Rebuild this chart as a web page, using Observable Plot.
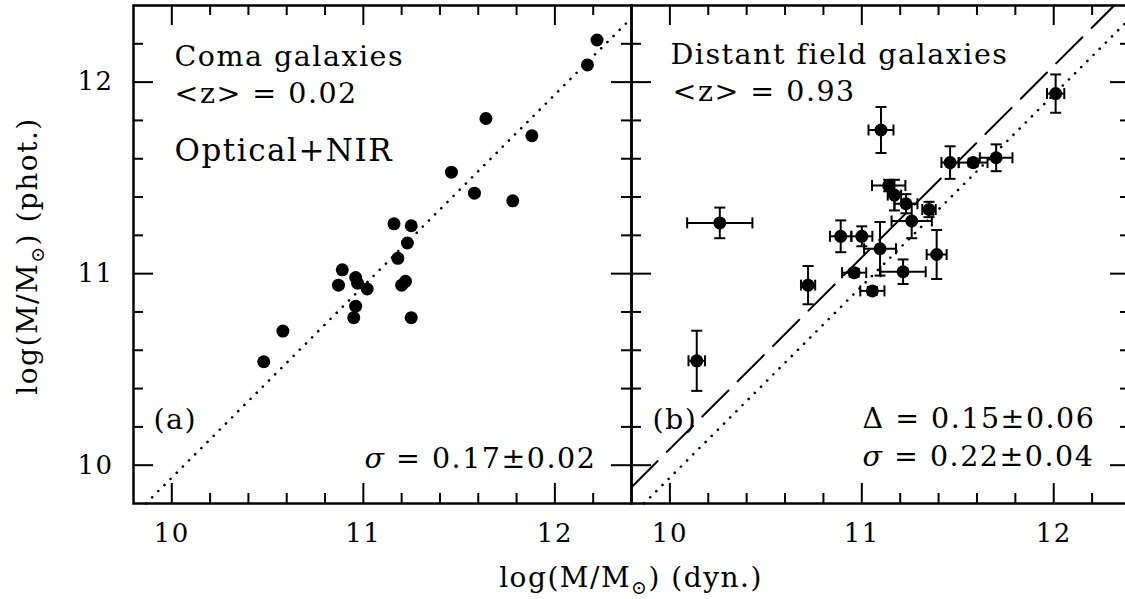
<!DOCTYPE html>
<html>
<head>
<meta charset="utf-8">
<script src="https://cdn.jsdelivr.net/npm/d3@7"></script>
<script src="https://cdn.jsdelivr.net/npm/@observablehq/plot@0.6"></script>
<style>
  html, body { margin: 0; padding: 0; background: #fff; }
  #chart { position: relative; width: 1125px; height: 599px; overflow: hidden; }
  #chart svg { position: absolute; left: 0; top: 0; display: block; }
  #chart svg text { letter-spacing: 1.5px; }
  #chart svg text.lbl { letter-spacing: 2px; }
</style>
</head>
<body>
<div id="chart"></div>
<script>
// ---------- data ----------
// Panel (a): Coma galaxies, log M dyn vs log M phot
const comaDyn  = [12.22, 12.17, 11.64, 11.88, 11.46, 11.58, 11.78, 11.16, 11.25, 11.23, 11.18, 10.89,
                  10.87, 10.96, 10.97, 11.02, 11.22, 11.20, 10.96, 10.95, 11.25, 10.58, 10.48];
const comaPhot = [12.22, 12.09, 11.81, 11.72, 11.53, 11.42, 11.38, 11.26, 11.25, 11.16, 11.08, 11.02,
                  10.94, 10.98, 10.95, 10.92, 10.96, 10.94, 10.83, 10.77, 10.77, 10.70, 10.54];

// Panel (b): distant field galaxies with errors
const fieldDyn     = [12.01, 11.10, 11.46, 11.58, 11.70, 11.14, 11.17, 11.23, 11.35, 11.26,
                      10.26, 10.89, 11.00, 11.095, 11.39, 10.96, 11.215, 10.72, 11.055, 10.14];
const fieldPhot    = [11.94, 11.75, 11.58, 11.58, 11.605, 11.46, 11.41, 11.365, 11.335, 11.275,
                      11.265, 11.195, 11.195, 11.13, 11.10, 11.005, 11.01, 10.94, 10.91, 10.545];
const fieldDynErr  = [0.045, 0.065, 0.045, 0.075, 0.085, 0.087, 0.035, 0.06, 0.035, 0.105,
                      0.17, 0.056, 0.055, 0.083, 0.052, 0.063, 0.118, 0.037, 0.063, 0.043];
const fieldPhotErr = [0.10, 0.12, 0.085, 0.02, 0.07, 0.03, 0.08, 0.05, 0.04, 0.09,
                      0.08, 0.083, 0.052, 0.14, 0.128, 0.02, 0.064, 0.10, 0.02, 0.157];

// Relations: dotted = Coma relation, dashed = field offset (Delta = 0.15)
const comaOffset = -0.065;
const fieldOffset = 0.085;

// Axes
const axisDomain = [9.8, 12.4];
const majorTicks = [10, 11, 12];
const minorTicks = [10.2, 10.4, 10.6, 10.8, 11.2, 11.4, 11.6, 11.8, 12.2];

// Text
const comaLabels  = ["Coma galaxies", "<z> = 0.02", "Optical+NIR"];
const comaPanel   = "(a)";
const comaSigma   = "σ = 0.17±0.02";
const fieldLabels = ["Distant field galaxies", "<z> = 0.93"];
const fieldPanel  = "(b)";
const fieldDelta  = "Δ = 0.15±0.06";
const fieldSigma  = "σ = 0.22±0.04";
const xTitle = ["log(M/M", "⊙", ") (dyn.)"];
const yTitle = ["log(M/M", "⊙", ") (phot.)"];

// ---------- helpers ----------
const W = 1125, H = 599;
const mTop = 5, mBottom = 96;
const innerH = H - mTop - mBottom;          // 498
const FONT = "DejaVu Serif";
const ink = "#000";

const capH = {draw(ctx, size) { const r = Math.sqrt(size / Math.PI); ctx.moveTo(-r, 0); ctx.lineTo(r, 0); }};
const capV = {draw(ctx, size) { const r = Math.sqrt(size / Math.PI); ctx.moveTo(0, -r); ctx.lineTo(0, r); }};

function relationLine(offset) {
  const x0 = Math.max(axisDomain[0], axisDomain[0] - offset);
  const x1 = Math.min(axisDomain[1], axisDomain[1] - offset);
  return [x0, x1].map(x => ({x, y: x + offset}));
}

function frameTicks(innerW) {
  const majLen = 20, minLen = 10, sw = 2;
  return [
    Plot.tickX(majorTicks, {x: d => d, insetTop: innerH - majLen, stroke: ink, strokeWidth: sw}),
    Plot.tickX(minorTicks, {x: d => d, insetTop: innerH - minLen, stroke: ink, strokeWidth: sw}),
    Plot.tickX(majorTicks, {x: d => d, insetBottom: innerH - majLen, stroke: ink, strokeWidth: sw}),
    Plot.tickX(minorTicks, {x: d => d, insetBottom: innerH - minLen, stroke: ink, strokeWidth: sw}),
    Plot.tickY(majorTicks, {y: d => d, insetRight: innerW - majLen, stroke: ink, strokeWidth: sw}),
    Plot.tickY(minorTicks, {y: d => d, insetRight: innerW - minLen, stroke: ink, strokeWidth: sw}),
    Plot.tickY(majorTicks, {y: d => d, insetLeft: innerW - majLen, stroke: ink, strokeWidth: sw}),
    Plot.tickY(minorTicks, {y: d => d, insetLeft: innerW - minLen, stroke: ink, strokeWidth: sw}),
    Plot.frame({stroke: ink, strokeWidth: 2.5})
  ];
}

function label(text, dx, dy, size = 28.5) {
  return Plot.text([text], {text: d => d, frameAnchor: "top-left", dx, dy, textAnchor: "start",
                            lineAnchor: "bottom", fontSize: size, fill: ink, fontFamily: FONT,
                            className: "lbl"});
}

// ---------- panel (a) ----------
const leftML = 133, leftMR = W - 631;
const coma = comaDyn.map((x, i) => ({x, y: comaPhot[i]}));

const left = Plot.plot({
  width: W, height: H,
  marginLeft: leftML, marginRight: leftMR, marginTop: mTop, marginBottom: mBottom,
  style: {fontFamily: FONT, fontSize: "26px", background: "transparent", color: ink},
  x: {domain: axisDomain, ticks: majorTicks, tickSize: 0, tickPadding: 20, label: null, tickFormat: d => String(d)},
  y: {domain: axisDomain, ticks: majorTicks, tickSize: 0, tickPadding: 20, label: null, tickFormat: d => String(d)},
  marks: [
    ...frameTicks(W - leftML - leftMR),
    Plot.line(relationLine(comaOffset), {x: "x", y: "y", stroke: ink, strokeWidth: 2.6,
      strokeDasharray: "0.1,8.6", strokeLinecap: "round"}),
    Plot.dot(coma, {x: "x", y: "y", r: 6.5, fill: ink, stroke: "none"}),
    label(comaLabels[0], 41, 60),
    label(comaLabels[1], 41, 97),
    label(comaLabels[2], 41, 155, 31),
    label(comaPanel, 20, 423),
    label(comaSigma, 231, 462)
  ]
});

// ---------- panel (b) ----------
const rightML = 631, rightMR = -5;
const field = fieldDyn.map((x, i) => ({x, y: fieldPhot[i], xe: fieldDynErr[i], ye: fieldPhotErr[i]}));

const right = Plot.plot({
  width: W, height: H,
  marginLeft: rightML, marginRight: rightMR, marginTop: mTop, marginBottom: mBottom,
  style: {fontFamily: FONT, fontSize: "26px", background: "transparent", color: ink},
  x: {domain: axisDomain, ticks: majorTicks, tickSize: 0, tickPadding: 20, label: null, tickFormat: d => String(d)},
  y: {domain: axisDomain, axis: null},
  marks: [
    ...frameTicks(W - rightML - rightMR),
    Plot.line(relationLine(comaOffset), {x: "x", y: "y", stroke: ink, strokeWidth: 2.6,
      strokeDasharray: "0.1,8.6", strokeLinecap: "round"}),
    Plot.line(relationLine(fieldOffset), {x: "x", y: "y", stroke: ink, strokeWidth: 2,
      strokeDasharray: "37,13"}),
    Plot.ruleY(field, {y: "y", x1: d => d.x - d.xe, x2: d => d.x + d.xe, stroke: ink, strokeWidth: 2}),
    Plot.ruleX(field, {x: "x", y1: d => d.y - d.ye, y2: d => d.y + d.ye, stroke: ink, strokeWidth: 2}),
    Plot.dot(field, {x: d => d.x - d.xe, y: "y", symbol: capV, r: 5.5, stroke: ink, strokeWidth: 2, fill: "none"}),
    Plot.dot(field, {x: d => d.x + d.xe, y: "y", symbol: capV, r: 5.5, stroke: ink, strokeWidth: 2, fill: "none"}),
    Plot.dot(field, {x: "x", y: d => d.y - d.ye, symbol: capH, r: 5.5, stroke: ink, strokeWidth: 2, fill: "none"}),
    Plot.dot(field, {x: "x", y: d => d.y + d.ye, symbol: capH, r: 5.5, stroke: ink, strokeWidth: 2, fill: "none"}),
    Plot.dot(field, {x: "x", y: "y", r: 6.5, fill: ink, stroke: "none"}),
    label(fieldLabels[0], 39, 58),
    label(fieldLabels[1], 41, 95),
    label(fieldPanel, 21, 423),
    label(fieldDelta, 231, 422),
    label(fieldSigma, 231, 460)
  ]
});

const chart = document.getElementById("chart");
chart.appendChild(left);
chart.appendChild(right);

// Italic sigma (as in the original typesetting)
d3.select(chart).selectAll("text").each(function() {
  const el = d3.select(this);
  if (this.childElementCount === 0 && this.textContent.startsWith("σ")) {
    const rest = this.textContent.slice(1);
    el.text(null);
    el.append("tspan").attr("font-style", "italic").text("σ");
    el.append("tspan").text(rest);
  }
});

// ---------- axis titles (with subscript sun symbol) ----------
function addTitle(svg, parts, attrs) {
  const t = d3.select(svg).append("text")
    .attr("font-family", FONT).attr("font-size", 28).attr("fill", ink)
    .attr("text-anchor", "middle");
  for (const [k, v] of Object.entries(attrs)) t.attr(k, v);
  t.append("tspan").text(parts[0]);
  t.append("tspan").attr("font-size", 19).attr("dy", 7).text(parts[1]);
  t.append("tspan").attr("dy", -7).text(parts[2]);
}
addTitle(right, xTitle, {x: 631, y: 587});
addTitle(right, yTitle, {transform: "translate(37,256) rotate(-90)"});
</script>
</body>
</html>
